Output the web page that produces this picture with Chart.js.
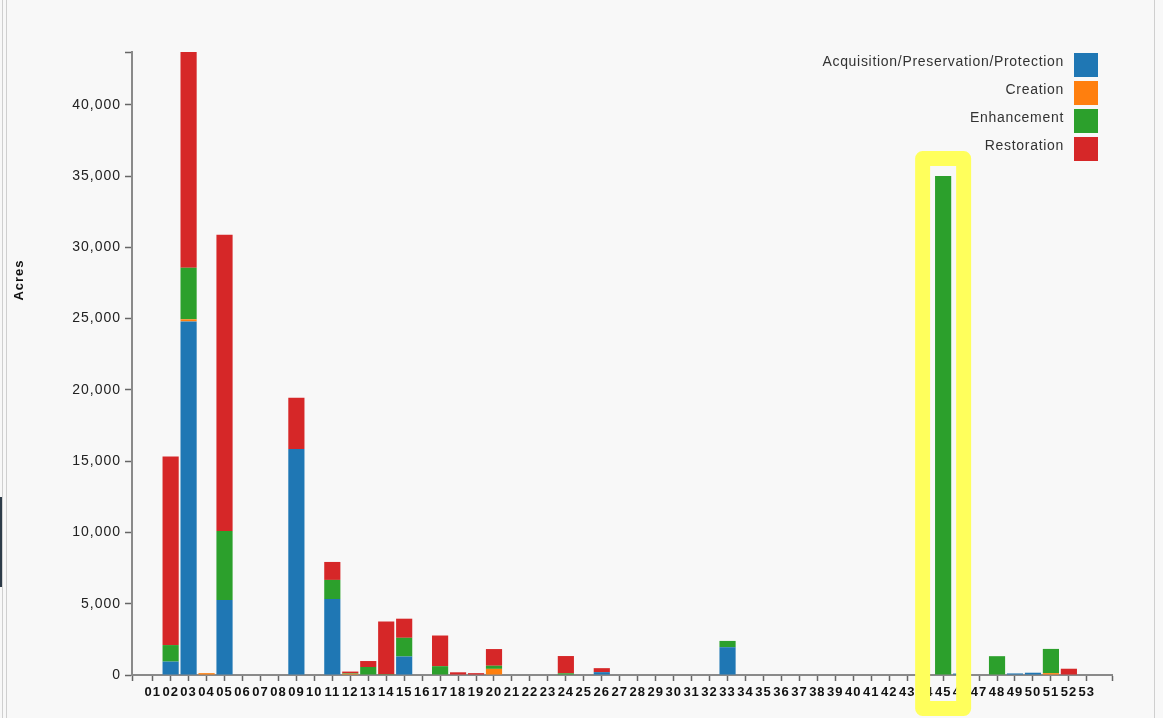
<!DOCTYPE html>
<html>
<head>
<meta charset="utf-8">
<script src="https://cdn.jsdelivr.net/npm/chart.js@4.4.0/dist/chart.umd.min.js"></script>
<style>
html,body{margin:0;padding:0;background:#f8f8f8;}
#wrap{position:relative;width:1163px;height:718px;overflow:hidden;background:#f8f8f8;}
#c{position:absolute;left:0;top:0;}
.vl{position:absolute;top:0;width:1px;height:718px;background:#cfcfcf;}
#dark{position:absolute;left:0;top:497px;width:2px;height:90px;background:#2d3b48;}
</style>
</head>
<body>
<div id="wrap">
  <div class="vl" style="left:2px"></div>
  <div class="vl" style="left:6px"></div>
  <div class="vl" style="left:1154px"></div>
  <div id="dark"></div>
  <canvas id="c" width="1163" height="718"></canvas>
</div>
<script>
// ---- Data ----
const categories = ['01','02','03','04','05','06','07','08','09','10',
  '11','12','13','14','15','16','17','18','19','20',
  '21','22','23','24','25','26','27','28','29','30',
  '31','32','33','34','35','36','37','38','39','40',
  '41','42','43','44','45','46','47','48','49','50',
  '51','52','53'];

const acquisition = [0,940,24800,0,5260,0,0,0,15860,0,
  5330,0,0,0,1300,0,0,0,0,0,
  0,0,0,0,0,200,0,0,0,0,
  0,0,1950,0,0,0,0,0,0,0,
  0,0,0,0,0,100,0,0,110,160,
  0,0,0];

const creation = [0,0,150,130,0,0,0,0,0,0,
  0,80,0,0,0,0,0,0,0,430,
  0,0,0,0,0,0,0,0,0,0,
  0,0,0,0,0,0,0,0,0,0,
  0,0,0,0,0,0,0,0,0,0,
  130,0,0];

const enhancement = [0,1160,3610,0,4840,0,0,0,0,0,
  1340,40,560,60,1310,0,620,0,0,220,
  0,0,0,120,0,0,0,0,0,0,
  0,0,440,0,0,0,0,0,0,0,
  0,0,0,0,35000,0,0,1320,0,0,
  1700,0,0];

const restoration = [0,13220,15140,0,20780,0,0,0,3580,0,
  1260,120,420,3700,1340,0,2150,190,130,1170,
  0,0,0,1210,0,280,0,0,0,0,
  0,0,0,0,0,0,0,0,0,0,
  0,0,0,0,0,0,0,0,0,0,
  0,440,0];

const seriesNames = ['Acquisition/Preservation/Protection','Creation','Enhancement','Restoration'];
const seriesColors = ['#1f77b4','#ff7f0e','#2ca02c','#d62728'];
const yTickValues = [0,5000,10000,15000,20000,25000,30000,35000,40000];
const yAxisTitle = 'Acres';
const highlightedCategory = '45';

// ---- Chart ----
const totals = categories.map((c,i)=>acquisition[i]+creation[i]+enhancement[i]+restoration[i]);
const yMax = Math.max(...totals);
const seriesValues = [acquisition, creation, enhancement, restoration];

const spacingPlugin = {
  id: 'spacing',
  beforeDraw(chart){ chart.ctx.letterSpacing = '1px'; }
};

const annotPlugin = {
  id: 'annot',
  afterDraw(chart){
    const ctx = chart.ctx, ca = chart.chartArea;
    const xs = chart.scales.x, ys = chart.scales.y;
    ctx.save();
    ctx.letterSpacing = '1px';
    ctx.font = 'bold 13px "Liberation Sans", Arial, sans-serif';
    ctx.fillStyle = '#111';
    ctx.textAlign = 'center';
    ctx.textBaseline = 'middle';
    ctx.translate(19, ca.top + 228);
    ctx.rotate(-Math.PI/2);
    ctx.fillText(yAxisTitle, 0, 0);
    ctx.restore();

    ctx.save();
    ctx.letterSpacing = '0.7px';
    ctx.font = '14px "Liberation Sans", Arial, sans-serif';
    ctx.textAlign = 'right';
    ctx.textBaseline = 'middle';
    chart.data.datasets.forEach((ds, i) => {
      const bx = ca.right - 38, by = ca.top + 1 + i * 28;
      ctx.fillStyle = ds.backgroundColor;
      ctx.fillRect(bx, by, 24, 24);
      ctx.fillStyle = '#333';
      ctx.fillText(ds.label, bx - 10, by + 9);
    });
    ctx.restore();

    const idx = categories.indexOf(highlightedCategory);
    const cx = xs.getPixelForValue(Number(highlightedCategory));
    const topY = ys.getPixelForValue(totals[idx]) - 17.5;
    ctx.save();
    ctx.strokeStyle = '#ffff5c';
    ctx.lineWidth = 15;
    ctx.lineJoin = 'round';
    ctx.strokeRect(cx - 20.5, topY, 41, ca.bottom + 33.5 - topY);
    ctx.restore();
  }
};

const xTickColor = (c) => {
  const v = c.tick ? c.tick.value : null;
  if (v !== null && Number.isInteger(v) && (v < 1 || v > categories.length)) return 'rgba(0,0,0,0)';
  return '#666';
};

new Chart(document.getElementById('c'), {
  type: 'bar',
  data: {
    labels: categories,
    datasets: seriesNames.map((n, i) => ({
      label: n,
      data: seriesValues[i],
      backgroundColor: seriesColors[i],
      borderWidth: 0,
      categoryPercentage: 1,
      barPercentage: 0.9
    }))
  },
  options: {
    responsive: false,
    animation: false,
    devicePixelRatio: 1,
    layout: { padding: { left: 0, right: 51, top: 52, bottom: 0 } },
    plugins: { legend: { display: false }, tooltip: { enabled: false } },
    scales: {
      x: {
        type: 'linear',
        stacked: true,
        offset: false,
        min: -0.15,
        max: 54.4,
        afterFit: (s) => { s.height = 43; },
        afterBuildTicks: (s) => {
          s.ticks = [{value: s.min}].concat(categories.map((c) => ({value: Number(c)}))).concat([{value: s.max}]);
        },
        border: { display: true, color: '#8a8a8a', width: 2 },
        grid: { offset: false, drawOnChartArea: false, drawTicks: true, tickLength: 6, tickWidth: 1.5, tickColor: xTickColor },
        ticks: {
          autoSkip: false,
          maxRotation: 0,
          minRotation: 0,
          padding: 4,
          color: '#111',
          font: { family: '"Liberation Sans", Arial, sans-serif', size: 13, weight: 'bold' },
          callback: (v) => (Number.isInteger(v) && v >= 1 && v <= categories.length) ? categories[v - 1] : ''
        }
      },
      y: {
        stacked: true,
        min: 0,
        max: yMax,
        afterFit: (s) => { s.width = 132; },
        afterBuildTicks: (s) => {
          s.ticks = yTickValues.map((v) => ({value: v})).concat([{value: s.max}]);
        },
        border: { display: true, color: '#8a8a8a', width: 2 },
        grid: { drawOnChartArea: false, drawTicks: true, tickLength: 7, tickWidth: 1.5, tickColor: '#666' },
        ticks: {
          padding: 4,
          color: '#222',
          font: { family: '"Liberation Sans", Arial, sans-serif', size: 14 },
          callback: (v) => yTickValues.includes(v) ? v.toLocaleString('en-US') : ''
        }
      }
    }
  },
  plugins: [spacingPlugin, annotPlugin]
});
</script>
</body>
</html>
